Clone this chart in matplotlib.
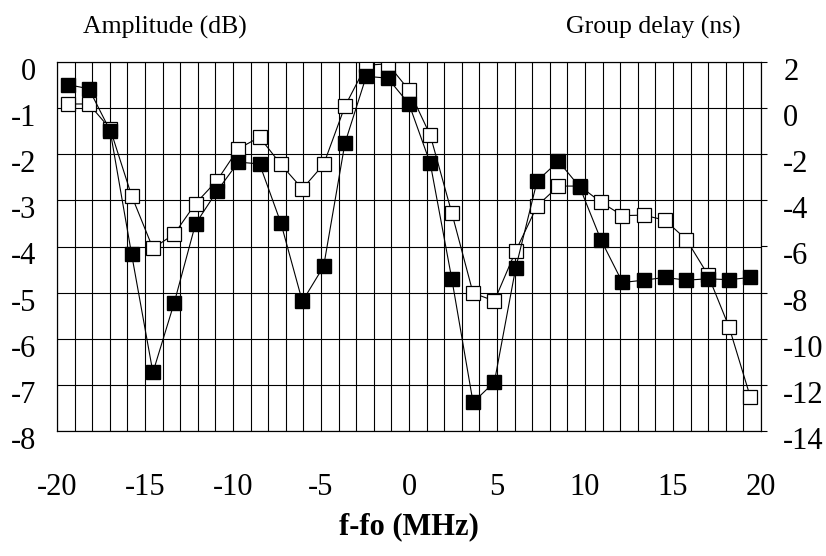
import matplotlib
matplotlib.use("Agg")
import matplotlib.pyplot as plt
import matplotlib.transforms as mtransforms

plt.rcParams['font.family'] = ['Liberation Serif', 'DejaVu Serif']

# frequency offset of each measured point (MHz)
freq = [-19.4, -18.19, -16.98, -15.76, -14.55, -13.34, -12.13, -10.91, -9.7, -8.49, -7.28,
        -6.06, -4.85, -3.64, -2.43, -1.21, 0.0, 1.21, 2.43, 3.64, 4.85, 6.06,
        7.28, 8.49, 9.7, 10.91, 12.13, 13.34, 14.55, 15.76, 16.98, 18.19, 19.4]

# amplitude (dB), open squares, left axis
amplitude = [-0.91, -0.91, -1.45, -2.9, -4.04, -3.73, -3.07, -2.57, -1.88, -1.63, -2.22,
             -2.75, -2.22, -0.96, -0.07, -0.04, -0.61, -1.59, -3.27, -5.01, -5.18, -4.1,
             -3.12, -2.69, -2.69, -3.04, -3.33, -3.32, -3.43, -3.85, -4.61, -5.75, -7.27]

# group delay (ns), filled squares, right axis
group_delay = [1.02, 0.84, -0.98, -6.34, -11.46, -8.44, -5.02, -3.6, -2.34, -2.42, -4.98,
               -8.38, -6.86, -1.52, 1.38, 1.3, 0.18, -2.4, -7.4, -12.76, -11.88, -6.94,
               -3.16, -2.3, -3.42, -5.72, -7.56, -7.46, -7.34, -7.46, -7.4, -7.44, -7.34]

x_ticks = [-20, -15, -10, -5, 0, 5, 10, 15, 20]
db_ticks = [0, -1, -2, -3, -4, -5, -6, -7, -8]
ns_ticks = [2, 0, -2, -4, -6, -8, -10, -12, -14]

fig = plt.figure(figsize=(8.26, 5.56), dpi=100)
ax = fig.add_axes([57 / 826, 1 - 431 / 556, 704 / 826, 369 / 556])

# grid every 1 MHz and every 1 dB
for xv in range(-20, 21):
    ax.axvline(xv, color='black', lw=0.8, zorder=1)
for yv in db_ticks:
    ax.axhline(yv, color='black', lw=0.8, zorder=1)

ax.plot(freq, amplitude, color='black', lw=0.8, marker='s', markersize=10,
        markerfacecolor='white', markeredgecolor='black', markeredgewidth=0.9, zorder=3)
ax.set_xlim(-20, 20)
ax.set_ylim(-8, 0)
ax.set_xticks(x_ticks)
ax.set_yticks(db_ticks)
ax.set_yticklabels([str(t) for t in db_ticks])
ax.set_xticklabels([str(t) for t in x_ticks])
ax.tick_params(axis='both', length=0, labelsize=22)
ax.tick_params(axis='x', pad=30)
ax.tick_params(axis='y', pad=15)

ax2 = ax.twinx()
ax2.plot(freq, group_delay, color='black', lw=0.8, marker='s', markersize=10,
         markerfacecolor='black', markeredgecolor='black', zorder=3)
ax2.set_ylim(-14, 2)
ax2.set_yticks(ns_ticks)
ax2.set_yticklabels([str(t) for t in ns_ticks])
ax2.tick_params(axis='y', direction='out', length=4, width=0.8, labelsize=22, pad=12)

# tick labels sit a little below their grid lines
shift = mtransforms.ScaledTranslation(0, -7 / 100, fig.dpi_scale_trans)
for lab in ax.get_yticklabels() + ax2.get_yticklabels():
    lab.set_transform(lab.get_transform() + shift)

for a in (ax, ax2):
    for s in a.spines.values():
        s.set_color('black')
        s.set_linewidth(0.8)

fig.text(165 / 826, 1 - 27 / 556, 'Amplitude (dB)', fontsize=18.5, ha='center', va='center')
fig.text(653 / 826, 1 - 27 / 556, 'Group delay (ns)', fontsize=18.5, ha='center', va='center')
fig.text(409 / 826, 1 - 527 / 556, 'f-fo (MHz)', fontsize=22, fontweight='bold',
         ha='center', va='center')

fig.savefig('out.png', dpi=100)
